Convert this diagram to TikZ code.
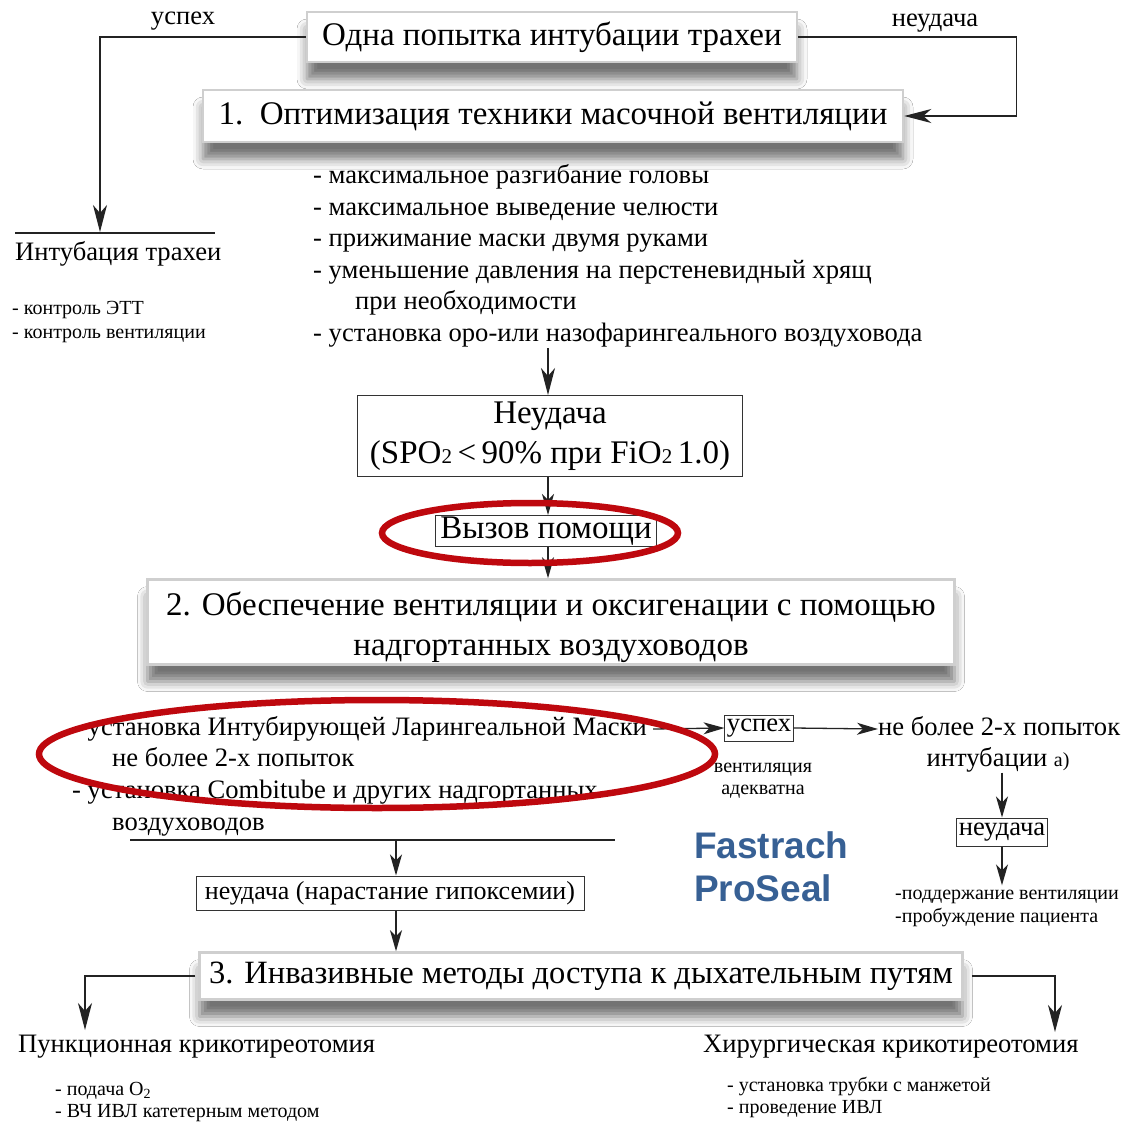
\documentclass[tikz,border=0pt]{standalone}
\usepackage{fontspec}
\setmainfont{Liberation Serif}
\newfontfamily\brandfont{Liberation Sans}
\usetikzlibrary{shadows.blur, arrows.meta}

\newcommand\fbig{\fontsize{33}{40}\selectfont}
\newcommand\fmid{\fontsize{26.6}{31}\selectfont}
\newcommand\fsml{\fontsize{20}{23}\selectfont}
\newcommand\smalltwo{{\fontsize{21}{21}\selectfont 2}}

\definecolor{ringred}{RGB}{190,8,14}
\definecolor{brandblue}{RGB}{55,96,148}
\definecolor{wire}{RGB}{35,35,35}

\tikzset{
  sbox/.style={fill=white, draw=gray!38, line width=2.5pt, inner sep=0pt,
    font=\fbig, align=center,
    blur shadow={shadow xshift=0pt, shadow yshift=-17pt, shadow blur radius=10pt, shadow opacity=55}},
  pbox/.style={fill=white, draw=black!80, line width=1pt, inner sep=3pt},
  txt/.style={anchor=west, inner sep=0pt, font=\fmid, text height=19pt, text depth=6pt},
  sml/.style={anchor=west, inner sep=0pt, font=\fsml, text height=14pt, text depth=5pt},
  lbl/.style={inner sep=0pt, font=\fmid, text height=19pt, text depth=6pt},
  wirel/.style={draw=wire, line width=1.3pt},
  arr/.style={wirel, -{Stealth[length=21pt, width=12pt, inset=6pt]}},
  bigarr/.style={wirel, -{Stealth[length=27pt, width=14pt, inset=8pt]}},
  ring/.style={draw=ringred, line width=6.5pt},
  brand/.style={anchor=west, inner sep=0pt, text=brandblue,
    font=\brandfont\bfseries\fontsize{37}{40}\selectfont},
}

\begin{document}
\begin{tikzpicture}[x=1pt, y=-1pt]
\path[use as bounding box, fill=white] (0,0) rectangle (1128,1124);

% ---------- first attempt ----------
\node[sbox, minimum width=490pt, minimum height=50pt] (top) at (552,37) {Одна попытка интубации трахеи};
\node[lbl] (lsucc) at (183,18) {успех};
\node[lbl] (lfail) at (935,20) {неудача};

\node[sbox, minimum width=700pt, minimum height=52pt] (opt) at (553,116) {1.\ \ Оптимизация техники масочной вентиляции};

% success branch on the left
\coordinate (intubtip) at (100,232);
\draw[bigarr] (top.west) -| (intubtip);
\coordinate (ula) at (15,233);
\coordinate (ulb) at (215,233);
\draw[wirel] (ula) -- (ulb);
\node[txt] (intub) at (15,254) {Интубация трахеи};
\node[sml] (ett) at (12,310) {- контроль ЭТТ};
\node[sml] (vent) at (12,334) {- контроль вентиляции};

% failure branch on the right
\draw[bigarr] (top.east) -- ++(218,0) |- (opt.east);

% mask ventilation measures
\node[txt] (a1) at (313,177) {- максимальное разгибание головы};
\node[txt] (a2) at (313,209) {- максимальное выведение челюсти};
\node[txt] (a3) at (313,240) {- прижимание маски двумя руками};
\node[txt] (a4) at (313,272) {- уменьшение давления на перстеневидный хрящ};
\node[txt] (a5) at (355,303) {при необходимости};
\node[txt] (a6) at (313,335) {- установка оро-или назофарингеального воздуховода};

\node[pbox, font=\fbig, align=center, minimum width=385pt, minimum height=81pt] (fail1) at (550,436)
  {Неудача\\(SPO\smalltwo\,<\,90\% при FiO\smalltwo\,1.0)};
\coordinate (a6out) at (548,348);
\draw[bigarr] (a6out) -- (a6out |- fail1.north);

\node[pbox, font=\fbig, inner sep=1pt, minimum width=221pt, minimum height=31pt] (help) at (546,531) {Вызов помощи};
\draw[arr] (fail1.south -| a6out) -- (a6out |- help.north);

% ---------- supraglottic airways ----------
\node[sbox, minimum width=807pt, minimum height=85pt] (sga) at (551,622) {};
\node[font=\fbig, align=center, inner sep=0pt] (sgatext) at (551,627)
  {2. Обеспечение вентиляции и оксигенации с помощью\\надгортанных воздуховодов};
\draw[arr] (help.south -| a6out) -- (a6out |- sga.north);

\node[txt] (m1) at (72,729) {- установка Интубирующей Ларингеальной Маски};
\node[txt] (m2) at (112,760) {не более 2-х попыток};
\node[txt] (m3) at (72,792) {- установка Combitube и других надгортанных};
\node[txt] (m4) at (112,824) {воздуховодов};

\coordinate (u2a) at (130,840);
\coordinate (u2b) at (615,840);
\coordinate (u2m) at (396,840);
\draw[wirel] (u2a) -- (u2b);

\node[pbox, font=\fontsize{26}{30}\selectfont, minimum width=388pt, minimum height=34pt, inner sep=1pt] (hyp) at (390,893) {неудача (нарастание гипоксемии)};
\draw[arr] (u2m) -- (u2m |- hyp.north);

\node[pbox, font=\fmid, inner sep=2pt, minimum height=26pt] (succ) at (759,728) {успех};
\draw[arr] ([xshift=6pt]m1.east) -- (succ.west);
\node[sml, anchor=center] (ad1) at (763,768) {вентиляция};
\node[sml, anchor=center] (ad2) at (763,790) {адекватна};

\node[txt] (att) at (878,729) {не более 2-х попыток};
\draw[arr] (succ.east) -- (att.west);
\node[lbl] (att2) at (998,760) {интубации {\fsml а)}};

\node[pbox, font=\fmid, inner sep=2pt, minimum height=28pt] (fail2) at (1002,832) {неудача};
\draw[arr] (fail2.north |- att2.south) -- (fail2.north);
\node[sml] (w1) at (895,895) {-поддержание вентиляции};
\node[sml] (w2) at (895,918) {-пробуждение пациента};
\draw[arr] (fail2.south) -- (fail2.south |- w1.north);

\node[brand] (fa) at (694,845) {Fastrach};
\node[brand] (ps) at (694,888) {ProSeal};

% ---------- invasive access ----------
\node[sbox, minimum width=763pt, minimum height=47pt, font=\fontsize{32.5}{38}\selectfont] (inv) at (581,976)
  {3. Инвазивные методы доступа к дыхательным путям};
\draw[arr] (u2m |- hyp.south) -- (u2m |- inv.north);

\coordinate (pl) at (85,1030);
\coordinate (pr) at (1055,1032);
\draw[bigarr] ([xshift=-3pt]inv.west) -| (pl);
\draw[bigarr] ([xshift=8pt]inv.east) -| (pr);

\node[txt] (punc) at (18,1046) {Пункционная крикотиреотомия};
\node[sml] (p1) at (55,1091) {- подача O\textsubscript{2}};
\node[sml] (p2) at (55,1113) {- ВЧ ИВЛ катетерным методом};

\node[txt] (surg) at (703,1046) {Хирургическая крикотиреотомия};
\node[sml] (s1) at (727,1087) {- установка трубки с манжетой};
\node[sml] (s2) at (727,1109) {- проведение ИВЛ};

% ---------- highlight rings ----------
\draw[ring] (530,533) ellipse [x radius=148, y radius=30];
\draw[ring] (377,754) ellipse [x radius=338, y radius=54];

\end{tikzpicture}
\end{document}
